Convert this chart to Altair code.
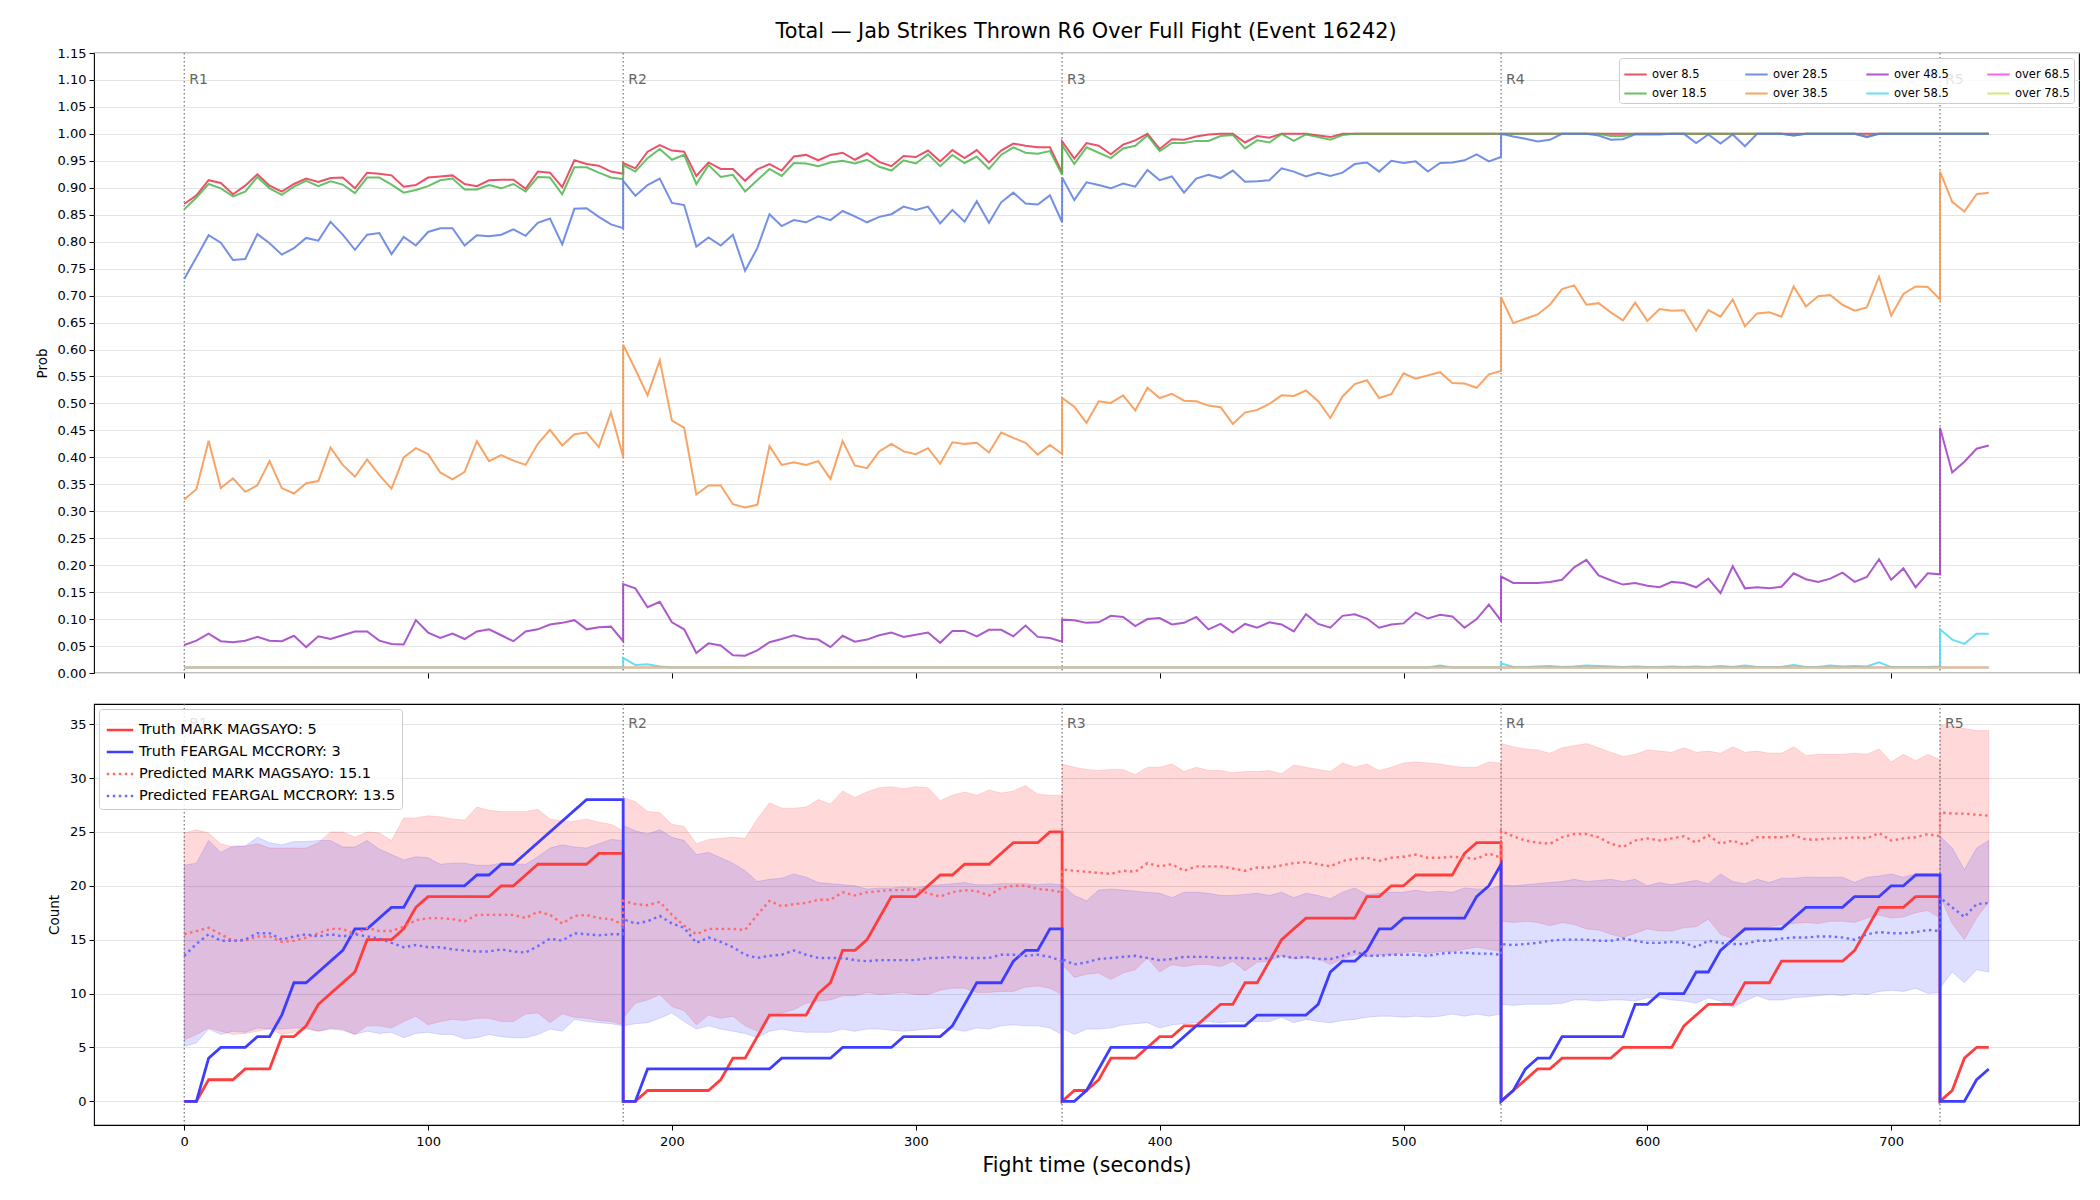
import altair as alt
import pandas as pd

ROUND_STARTS = [0, 180, 360, 540, 720]
ROUND_LABELS = ["R1", "R2", "R3", "R4", "R5"]
ROUND_POINTS = [37, 37, 37, 37, 5]
STEP = 5

# ---------------- top panel: P(over line) per round ----------------
over_8_5 = [
    [0.870,0.886,0.914,0.909,0.888,0.904,0.925,0.904,0.893,0.907,0.917,0.911,0.918,0.919,0.899,0.928,0.926,0.923,0.902,0.905,0.919,0.921,0.923,0.907,0.903,0.914,0.915,0.915,0.898,0.930,0.928,0.901,0.951,0.944,0.941,0.930,0.926],
    [0.946,0.936,0.967,0.979,0.969,0.967,0.922,0.947,0.935,0.935,0.913,0.934,0.944,0.932,0.958,0.961,0.951,0.961,0.965,0.952,0.964,0.948,0.940,0.959,0.957,0.969,0.949,0.970,0.955,0.970,0.947,0.969,0.982,0.978,0.975,0.975,0.928],
    [0.986,0.954,0.983,0.978,0.962,0.980,0.988,1.000,0.972,0.990,0.989,0.995,0.999,1.0,1.0,0.984,0.996,0.993,1.0,1.0,1.0,0.997,0.994,1.0,1.0,1.0,1.0,1.0,1.0,1.0,1.0,1.0,1.0,1.0,1.0,1.0,1.0],
    [1.0,1.0,1.0,1.0,1.0,1.0,1.0,1.0,1.0,1.0,1.0,1.0,1.0,1.0,1.0,1.0,1.0,1.0,1.0,1.0,1.0,1.0,1.0,1.0,1.0,1.0,1.0,1.0,1.0,1.0,1.0,1.0,1.0,1.0,1.0,1.0,1.0],
    [1.0,1.0,1.0,1.0,1.0],
]
over_18_5 = [
    [0.860,0.882,0.907,0.899,0.884,0.893,0.920,0.899,0.887,0.902,0.913,0.903,0.912,0.906,0.890,0.919,0.919,0.906,0.891,0.896,0.903,0.914,0.917,0.897,0.897,0.905,0.899,0.907,0.893,0.920,0.919,0.888,0.938,0.938,0.928,0.919,0.916],
    [0.942,0.930,0.955,0.972,0.952,0.961,0.907,0.942,0.920,0.924,0.893,0.914,0.935,0.922,0.946,0.945,0.940,0.947,0.950,0.945,0.952,0.939,0.932,0.951,0.945,0.962,0.940,0.961,0.946,0.958,0.935,0.961,0.975,0.965,0.963,0.968,0.924],
    [0.979,0.944,0.975,0.965,0.955,0.973,0.978,0.997,0.968,0.983,0.983,0.987,0.987,0.996,0.998,0.973,0.988,0.984,1.0,0.987,0.999,0.994,0.989,0.998,1.0,1.0,1.0,1.0,1.0,1.0,1.0,1.0,1.0,1.0,1.0,1.0,1.0],
    [1.0,1.0,1.0,1.0,1.0,1.0,1.0,1.0,1.0,0.996,0.996,1.0,1.0,1.0,1.0,1.0,1.0,1.0,1.0,1.0,1.0,1.0,1.0,1.0,0.997,1.0,1.0,1.0,1.0,1.0,0.995,1.0,1.0,1.0,1.0,1.0,1.0],
    [1.0,1.0,1.0,1.0,1.0],
]
over_28_5 = [
    [0.731,0.771,0.812,0.798,0.766,0.768,0.814,0.797,0.776,0.788,0.807,0.802,0.837,0.813,0.785,0.813,0.816,0.777,0.809,0.793,0.818,0.825,0.825,0.793,0.812,0.810,0.813,0.823,0.811,0.835,0.843,0.795,0.861,0.862,0.846,0.832,0.825],
    [0.913,0.885,0.905,0.917,0.872,0.868,0.791,0.808,0.793,0.813,0.746,0.788,0.851,0.829,0.840,0.836,0.847,0.840,0.857,0.847,0.836,0.846,0.851,0.865,0.859,0.865,0.834,0.859,0.837,0.875,0.835,0.873,0.891,0.871,0.869,0.886,0.836],
    [0.919,0.877,0.910,0.905,0.899,0.908,0.902,0.933,0.914,0.921,0.891,0.917,0.924,0.918,0.932,0.911,0.912,0.914,0.936,0.930,0.921,0.928,0.922,0.928,0.944,0.947,0.930,0.950,0.946,0.949,0.930,0.946,0.947,0.951,0.962,0.949,0.957],
    [1.0,0.995,0.991,0.986,0.989,1.0,1.0,1.0,0.997,0.989,0.990,0.999,0.999,0.999,1.0,1.0,0.983,0.999,0.982,0.999,0.977,1.0,1.0,1.0,0.997,1.0,1.0,1.0,1.0,1.0,0.994,1.0,1.0,1.0,1.0,1.0,1.0],
    [1.0,1.0,1.0,1.0,1.0],
]
over_38_5 = [
    [0.322,0.341,0.431,0.343,0.361,0.336,0.348,0.393,0.343,0.333,0.352,0.356,0.418,0.386,0.364,0.396,0.367,0.342,0.400,0.417,0.406,0.372,0.359,0.373,0.430,0.393,0.404,0.394,0.386,0.425,0.451,0.422,0.443,0.446,0.419,0.483,0.401],
    [0.609,0.563,0.515,0.580,0.468,0.455,0.331,0.348,0.348,0.313,0.307,0.312,0.421,0.386,0.391,0.386,0.393,0.360,0.430,0.385,0.380,0.411,0.425,0.411,0.406,0.417,0.388,0.428,0.425,0.427,0.409,0.446,0.436,0.427,0.405,0.423,0.406],
    [0.510,0.494,0.464,0.504,0.501,0.515,0.487,0.529,0.510,0.518,0.505,0.504,0.496,0.493,0.462,0.483,0.488,0.499,0.515,0.514,0.524,0.504,0.473,0.513,0.536,0.543,0.510,0.517,0.556,0.546,0.552,0.558,0.538,0.537,0.529,0.554,0.560],
    [0.697,0.649,0.657,0.665,0.683,0.712,0.719,0.683,0.686,0.669,0.654,0.687,0.653,0.675,0.672,0.673,0.635,0.673,0.661,0.693,0.643,0.667,0.669,0.661,0.717,0.680,0.699,0.701,0.683,0.672,0.678,0.735,0.663,0.703,0.717,0.716,0.693],
    [0.930,0.874,0.856,0.888,0.891],
]
over_48_5 = [
    [0.052,0.060,0.073,0.059,0.057,0.060,0.067,0.060,0.059,0.069,0.048,0.068,0.063,0.070,0.077,0.077,0.060,0.054,0.053,0.098,0.075,0.065,0.073,0.063,0.077,0.081,0.070,0.059,0.077,0.081,0.090,0.093,0.098,0.081,0.085,0.086,0.059],
    [0.165,0.157,0.122,0.132,0.094,0.081,0.037,0.055,0.051,0.033,0.032,0.042,0.057,0.063,0.070,0.064,0.062,0.048,0.069,0.058,0.062,0.070,0.075,0.067,0.071,0.075,0.056,0.078,0.078,0.068,0.080,0.080,0.068,0.088,0.067,0.065,0.058],
    [0.099,0.098,0.093,0.094,0.106,0.104,0.087,0.100,0.102,0.090,0.093,0.104,0.081,0.091,0.075,0.091,0.084,0.094,0.090,0.077,0.109,0.091,0.084,0.106,0.109,0.101,0.084,0.090,0.092,0.112,0.101,0.108,0.105,0.084,0.100,0.127,0.097],
    [0.179,0.167,0.167,0.167,0.169,0.173,0.196,0.210,0.181,0.172,0.164,0.167,0.162,0.159,0.169,0.167,0.159,0.175,0.148,0.198,0.157,0.159,0.157,0.160,0.185,0.174,0.169,0.175,0.186,0.169,0.178,0.211,0.173,0.194,0.159,0.185,0.183],
    [0.455,0.372,0.392,0.416,0.422],
]
over_58_5 = [
    [0.01,0.01,0.01,0.01,0.01,0.01,0.01,0.01,0.01,0.01,0.01,0.01,0.01,0.01,0.01,0.01,0.01,0.01,0.01,0.01,0.01,0.01,0.01,0.01,0.01,0.01,0.01,0.01,0.01,0.01,0.01,0.01,0.01,0.01,0.01,0.01,0.01],
    [0.028,0.015,0.016,0.012,0.01,0.01,0.01,0.01,0.01,0.01,0.01,0.01,0.01,0.01,0.01,0.01,0.01,0.01,0.01,0.01,0.01,0.01,0.01,0.01,0.01,0.01,0.01,0.01,0.01,0.01,0.01,0.01,0.01,0.01,0.01,0.01,0.01],
    [0.01,0.01,0.01,0.01,0.01,0.01,0.01,0.01,0.01,0.01,0.01,0.01,0.01,0.01,0.01,0.01,0.01,0.01,0.01,0.01,0.01,0.01,0.01,0.01,0.01,0.01,0.01,0.01,0.01,0.01,0.01,0.014,0.01,0.01,0.01,0.01,0.01],
    [0.018,0.011,0.011,0.012,0.013,0.011,0.012,0.014,0.013,0.012,0.011,0.012,0.011,0.011,0.012,0.011,0.012,0.011,0.013,0.011,0.014,0.011,0.011,0.011,0.015,0.011,0.011,0.014,0.012,0.013,0.012,0.020,0.011,0.011,0.011,0.011,0.012],
    [0.081,0.062,0.054,0.073,0.073],
]
over_68_5 = [
    [0.01,0.01,0.01,0.01,0.01,0.01,0.01,0.01,0.01,0.01,0.01,0.01,0.01,0.01,0.01,0.01,0.01,0.01,0.01,0.01,0.01,0.01,0.01,0.01,0.01,0.01,0.01,0.01,0.01,0.01,0.01,0.01,0.01,0.01,0.01,0.01,0.01],
    [0.01,0.01,0.01,0.01,0.01,0.01,0.01,0.01,0.01,0.01,0.01,0.01,0.01,0.01,0.01,0.01,0.01,0.01,0.01,0.01,0.01,0.01,0.01,0.01,0.01,0.01,0.01,0.01,0.01,0.01,0.01,0.01,0.01,0.01,0.01,0.01,0.01],
    [0.01,0.01,0.01,0.01,0.01,0.01,0.01,0.01,0.01,0.01,0.01,0.01,0.01,0.01,0.01,0.01,0.01,0.01,0.01,0.01,0.01,0.01,0.01,0.01,0.01,0.01,0.01,0.01,0.01,0.01,0.01,0.01,0.01,0.01,0.01,0.01,0.01],
    [0.01,0.01,0.01,0.01,0.01,0.01,0.01,0.01,0.01,0.01,0.01,0.01,0.01,0.01,0.01,0.01,0.01,0.01,0.01,0.01,0.01,0.01,0.01,0.01,0.01,0.01,0.01,0.01,0.01,0.01,0.01,0.01,0.01,0.01,0.01,0.01,0.01],
    [0.01,0.01,0.01,0.01,0.01],
]
over_78_5 = [
    [0.01,0.01,0.01,0.01,0.01,0.01,0.01,0.01,0.01,0.01,0.01,0.01,0.01,0.01,0.01,0.01,0.01,0.01,0.01,0.01,0.01,0.01,0.01,0.01,0.01,0.01,0.01,0.01,0.01,0.01,0.01,0.01,0.01,0.01,0.01,0.01,0.01],
    [0.01,0.01,0.01,0.01,0.01,0.01,0.01,0.01,0.01,0.01,0.01,0.01,0.01,0.01,0.01,0.01,0.01,0.01,0.01,0.01,0.01,0.01,0.01,0.01,0.01,0.01,0.01,0.01,0.01,0.01,0.01,0.01,0.01,0.01,0.01,0.01,0.01],
    [0.01,0.01,0.01,0.01,0.01,0.01,0.01,0.01,0.01,0.01,0.01,0.01,0.01,0.01,0.01,0.01,0.01,0.01,0.01,0.01,0.01,0.01,0.01,0.01,0.01,0.01,0.01,0.01,0.01,0.01,0.01,0.01,0.01,0.01,0.01,0.01,0.01],
    [0.01,0.01,0.01,0.01,0.01,0.01,0.01,0.01,0.01,0.01,0.01,0.01,0.01,0.01,0.01,0.01,0.01,0.01,0.01,0.01,0.01,0.01,0.01,0.01,0.01,0.01,0.01,0.01,0.01,0.01,0.01,0.01,0.01,0.01,0.01,0.01,0.01],
    [0.01,0.01,0.01,0.01,0.01],
]

TOP_SERIES = [
    ("over 8.5", over_8_5, "#e8334f"),
    ("over 18.5", over_18_5, "#4cb64c"),
    ("over 28.5", over_28_5, "#5a7be2"),
    ("over 38.5", over_38_5, "#f8944a"),
    ("over 48.5", over_48_5, "#9e3cc2"),
    ("over 58.5", over_58_5, "#4ed8f4"),
    ("over 68.5", over_68_5, "#f04ce6"),
    ("over 78.5", over_78_5, "#c6e85a"),
]

# ---------------- bottom panel: counts per round ----------------
truth_magsayo = [
    [0,0,2,2,2,3,3,3,6,6,7,9,10,11,12,15,15,15,16,18,19,19,19,19,19,19,20,20,21,22,22,22,22,22,23,23,23],
    [0,0,1,1,1,1,1,1,2,4,4,6,8,8,8,8,10,11,14,14,15,17,19,19,19,20,21,21,22,22,22,23,24,24,24,25,25],
    [0,1,1,2,4,4,4,5,6,6,7,7,8,9,9,11,11,13,15,16,17,17,17,17,17,19,19,20,20,21,21,21,21,23,24,24,24],
    [0,1,2,3,3,4,4,4,4,4,5,5,5,5,5,7,8,9,9,9,11,11,11,13,13,13,13,13,13,14,16,18,18,18,19,19,19],
    [0,1,4,5,5],
]
truth_mccrory = [
    [0,0,4,5,5,5,6,6,8,11,11,12,13,14,16,16,17,18,18,20,20,20,20,20,21,21,22,22,23,24,25,26,27,28,28,28,28],
    [0,0,3,3,3,3,3,3,3,3,3,3,3,4,4,4,4,4,5,5,5,5,5,6,6,6,6,7,9,11,11,11,13,14,14,16,16],
    [0,0,1,3,5,5,5,5,5,5,6,7,7,7,7,7,8,8,8,8,8,9,12,13,13,14,16,16,17,17,17,17,17,17,19,20,22],
    [0,1,3,4,4,6,6,6,6,6,6,9,9,10,10,10,12,12,14,15,16,16,16,16,17,18,18,18,18,19,19,19,20,20,21,21,21],
    [0,0,0,2,3],
]
pred_magsayo = [
    [15.5,15.8,16.1,15.5,14.9,14.9,15.3,15.3,14.8,14.9,15.2,15.6,16.0,16.0,15.5,16.1,15.8,15.8,16.2,16.8,17.0,17.0,16.9,16.7,17.3,17.3,17.3,17.3,17.0,17.6,17.3,16.5,17.2,17.3,17.0,16.9,16.4],
    [18.6,18.3,18.2,18.5,17.3,16.3,15.5,16.0,16.0,16.0,15.9,17.3,18.6,18.1,18.3,18.4,18.7,18.7,19.4,19.1,19.4,19.5,19.6,19.6,19.7,19.3,19.0,19.4,19.6,19.5,19.1,19.8,20.0,20.0,19.7,19.6,19.4],
    [21.5,21.4,21.3,21.2,21.1,21.4,21.3,22.1,21.8,22.0,21.4,21.8,21.8,21.8,21.6,21.4,21.7,21.7,21.9,22.1,22.2,22.0,21.8,22.3,22.5,22.6,22.3,22.6,22.7,22.9,22.6,22.6,22.7,22.6,22.5,23.0,22.6],
    [25.1,24.6,24.2,24.0,23.9,24.5,24.8,24.8,24.5,23.9,23.6,24.2,24.4,24.2,24.4,24.6,24.0,24.7,23.9,24.2,23.8,24.5,24.5,24.5,24.7,24.3,24.3,24.4,24.4,24.5,24.4,24.9,24.2,24.4,24.5,24.8,24.6],
    [26.8,26.7,26.7,26.6,26.5],
]
pred_mccrory = [
    [13.5,14.6,15.5,14.9,14.9,15.0,15.6,15.6,15.0,15.3,15.5,15.3,15.5,15.3,15.5,15.3,15.1,14.7,14.3,14.5,14.3,14.3,14.1,14.0,13.9,13.9,14.1,13.9,13.8,14.4,15.1,14.9,15.6,15.5,15.4,15.5,15.5],
    [16.9,16.5,16.7,17.2,16.5,16.1,14.7,15.2,14.8,14.3,13.6,13.3,13.5,13.6,14.0,13.6,13.3,13.3,13.3,13.1,13.0,13.1,13.1,13.1,13.1,13.3,13.3,13.4,13.3,13.3,13.3,13.6,13.6,13.5,13.6,13.4,13.0],
    [13.2,12.7,12.9,13.2,13.3,13.4,13.5,13.3,13.1,13.2,13.4,13.4,13.4,13.3,13.3,13.3,13.2,13.3,13.5,13.3,13.4,13.2,13.2,13.5,13.9,13.5,13.5,13.6,13.6,13.6,13.5,13.7,13.8,13.8,13.7,13.7,13.6],
    [14.6,14.5,14.6,14.7,14.9,15.0,15.0,15.0,14.9,14.9,15.1,14.9,14.7,14.7,14.8,14.7,14.3,14.9,14.7,14.6,14.6,14.9,14.9,15.1,15.2,15.2,15.3,15.3,15.2,15.0,15.5,15.7,15.6,15.6,15.7,15.9,15.8],
    [18.9,18.0,17.1,18.3,18.4],
]
band_magsayo_hi = [
    [24.9,25.2,24.9,23.9,23.6,23.7,23.9,23.5,23.5,23.5,23.5,24.0,25.0,25.0,24.5,25.0,24.9,24.2,26.3,26.3,26.5,26.4,26.2,26.1,27.3,27.0,26.9,26.9,26.9,27.1,26.2,26.0,26.0,26.2,25.9,25.7,25.1],
    [28.2,27.8,26.9,26.8,25.7,25.5,23.9,24.3,24.4,24.5,24.4,26.2,27.7,27.2,27.2,27.3,28.0,27.6,28.8,28.2,28.7,29.1,29.2,29.0,29.2,29.1,27.9,28.4,28.7,28.4,28.9,28.6,28.8,29.3,28.5,28.4,28.4],
    [31.3,31.0,30.8,30.7,30.8,30.8,30.3,31.0,31.0,31.3,30.6,31.0,30.7,30.7,30.5,30.6,30.6,30.7,30.4,31.2,31.0,30.8,30.6,31.4,31.0,31.3,30.7,31.0,31.4,31.5,31.4,31.3,31.1,31.0,31.0,31.5,31.4],
    [33.2,32.9,32.7,32.6,32.3,32.8,33.0,33.2,32.8,32.4,32.0,32.2,32.6,32.5,32.4,32.8,32.4,32.5,32.3,32.9,32.4,32.5,32.3,32.3,32.9,32.1,32.2,32.2,32.2,32.3,32.2,32.7,31.5,32.2,31.6,32.2,31.7],
    [34.9,34.8,34.6,34.4,34.4],
]
band_magsayo_lo = [
    [5.7,6.2,6.8,6.5,6.2,6.3,6.5,6.7,6.2,6.4,6.7,6.5,6.8,6.7,6.2,7.0,7.0,6.8,7.4,7.9,7.1,7.4,7.6,7.5,7.7,7.7,7.4,7.4,8.1,8.2,7.3,8.1,7.8,7.7,7.5,7.4,7.1],
    [7.7,9.1,9.4,9.9,8.8,8.4,7.1,8.0,7.7,7.9,7.0,6.5,7.9,8.2,8.5,9.1,9.3,9.4,9.8,9.8,10.1,9.9,10.0,10.1,9.9,9.9,10.3,10.5,10.5,10.1,10.1,10.2,10.2,10.6,10.7,10.5,9.9],
    [12.7,11.5,11.8,11.9,11.3,11.9,12.2,13.3,12.0,12.7,12.5,12.7,12.7,12.5,13.0,12.1,12.9,13.0,13.5,13.2,13.3,13.2,12.7,13.2,13.6,13.4,13.6,13.6,13.8,13.9,13.7,13.9,13.9,14.1,14.3,14.1,13.9],
    [16.7,16.6,16.7,16.6,16.3,16.6,16.4,16.0,15.9,15.5,15.2,15.6,16.0,15.8,15.8,16.1,16.2,16.9,15.5,15.1,15.8,15.9,16.2,16.4,16.5,16.6,16.5,16.7,16.7,16.6,17.0,17.3,17.0,17.1,17.5,17.7,17.0],
    [19.0,16.5,15.0,17.0,18.5],
]
band_mccrory_hi = [
    [21.9,22.1,24.2,23.1,23.7,23.7,24.5,24.0,23.8,24.1,24.1,24.2,24.2,23.6,23.6,24.2,23.4,22.9,22.4,22.7,22.6,22.0,22.1,22.1,21.9,21.9,22.1,22.0,22.0,22.7,23.5,23.8,23.6,23.5,23.9,24.3,24.2],
    [25.6,25.1,24.8,25.2,24.5,24.2,22.9,23.1,22.6,22.1,21.4,20.4,20.6,20.7,21.1,20.8,20.3,20.2,20.1,20.0,19.7,19.8,19.8,19.9,19.8,20.0,20.1,20.2,20.3,20.1,20.1,20.2,20.2,20.2,20.1,20.2,20.1],
    [20.1,19.1,18.6,19.6,19.7,19.6,19.5,19.4,19.3,18.9,19.4,19.4,19.3,19.1,19.1,19.2,19.3,19.1,19.4,18.9,19.3,19.1,18.8,19.4,19.8,19.2,19.3,19.4,19.4,19.6,19.4,19.5,19.4,19.8,19.7,19.7,20.0],
    [20.1,20.0,20.1,20.2,20.3,20.4,20.6,20.4,20.5,20.6,20.4,20.6,20.0,20.3,20.1,20.3,20.5,20.2,21.1,20.4,20.2,20.6,20.3,20.7,20.7,20.8,20.8,20.8,20.8,20.3,20.8,20.9,21.1,20.8,21.1,21.1,20.9],
    [24.6,23.5,21.5,23.5,24.2],
]
band_mccrory_lo = [
    [5.1,5.4,6.7,6.2,6.5,6.4,6.8,6.7,6.7,6.8,6.8,6.5,6.7,6.6,6.2,6.5,6.3,6.4,5.9,6.3,6.4,6.2,6.2,5.8,5.9,6.2,6.0,5.9,5.9,6.2,6.7,6.5,7.6,7.4,7.3,7.2,7.0],
    [7.0,7.2,7.3,7.7,8.2,7.4,6.7,7.0,6.7,6.5,6.3,5.9,6.5,6.7,6.5,6.4,6.4,6.4,6.7,6.5,6.7,6.7,6.6,6.5,6.6,6.7,6.8,6.7,6.5,6.8,6.7,7.0,7.1,7.0,7.0,6.8,6.2],
    [6.8,6.2,6.7,6.7,6.8,7.1,7.2,7.3,6.8,7.1,7.2,7.3,7.4,7.3,7.4,7.4,7.4,7.4,7.8,7.3,7.6,7.4,7.3,7.5,7.6,7.8,7.9,7.9,7.8,7.9,7.8,7.9,8.1,7.9,8.1,7.9,8.1],
    [9.0,8.9,9.0,9.0,9.0,9.1,9.4,9.4,9.3,9.4,9.4,9.3,9.6,9.6,9.4,9.3,9.1,9.6,9.3,8.7,9.3,9.8,9.4,9.4,9.6,9.7,9.8,9.9,9.8,10.0,9.9,10.2,10.3,10.2,10.5,10.0,10.1],
    [10.5,12.0,11.0,12.2,12.0],
]

LBL_T_MAG = "Truth MARK MAGSAYO: 5"
LBL_T_MCC = "Truth FEARGAL MCCRORY: 3"
LBL_P_MAG = "Predicted MARK MAGSAYO: 15.1"
LBL_P_MCC = "Predicted FEARGAL MCCRORY: 13.5"

TITLE = "Total \u2014 Jab Strikes Thrown R6 Over Full Fight (Event 16242)"
FONT = "DejaVu Sans"


def round_times(r):
    return [ROUND_STARTS[r] + STEP * k for k in range(ROUND_POINTS[r])]


# ---------- build tables ----------
rows = []
idx = 0
for name, rounds, _c in TOP_SERIES:
    for r, vals in enumerate(rounds):
        for t, v in zip(round_times(r), vals):
            rows.append({"t": t, "p": v, "series": name, "i": idx})
            idx += 1
df_top = pd.DataFrame(rows)

rows = []
idx = 0
for lbl, kind, rounds in [(LBL_T_MAG, "truth", truth_magsayo), (LBL_T_MCC, "truth", truth_mccrory),
                          (LBL_P_MAG, "pred", pred_magsayo), (LBL_P_MCC, "pred", pred_mccrory)]:
    for r, vals in enumerate(rounds):
        for t, v in zip(round_times(r), vals):
            rows.append({"t": t, "c": v, "label": lbl, "kind": kind, "i": idx})
            idx += 1
df_cnt = pd.DataFrame(rows)

rows = []
for who, his, los in [("mag", band_magsayo_hi, band_magsayo_lo), ("mcc", band_mccrory_hi, band_mccrory_lo)]:
    for r in range(len(ROUND_STARTS)):
        for t, hi, lo in zip(round_times(r), his[r], los[r]):
            rows.append({"t": t, "hi": hi, "lo": lo, "who": who, "round": ROUND_LABELS[r]})
df_band = pd.DataFrame(rows)

df_rounds = pd.DataFrame({"t": ROUND_STARTS, "label": ROUND_LABELS})

# ---------- shared encodings ----------
x_dom = [-37, 777]
x_ticks = [0, 100, 200, 300, 400, 500, 600, 700]
top_y_ticks = [round(0.05 * k, 2) for k in range(24)]
bot_y_ticks = [0, 5, 10, 15, 20, 25, 30, 35]

x_top = alt.X("t:Q", scale=alt.Scale(domain=x_dom, nice=False, zero=False),
              axis=alt.Axis(values=x_ticks, labels=False, title=None, grid=False,
                            ticks=True, tickSize=5, domain=False))
x_bot = alt.X("t:Q", scale=alt.Scale(domain=x_dom, nice=False, zero=False),
              axis=alt.Axis(values=x_ticks, title="Fight time (seconds)", grid=False,
                            ticks=True, tickSize=5, domain=False, labelPadding=5,
                            titleFontSize=20.5, titlePadding=7, labelOverlap=False))

y_top_scale = alt.Scale(domain=[0, 1.15], nice=False, zero=False)
y_top_axis = alt.Axis(values=top_y_ticks, format=".2f", title="Prob", grid=True, tickSize=5,
                      domain=False, labelPadding=3, titlePadding=8, labelOverlap=False,
                      labelBound=False, labelFlush=False)
y_bot_scale = alt.Scale(domain=[-2.2, 36.87], nice=False, zero=False)
y_bot_axis = alt.Axis(values=bot_y_ticks, title="Count", grid=True, tickSize=5, domain=False,
                      labelPadding=3, titlePadding=8, labelOverlap=False)

rule_top = alt.Chart(df_rounds).mark_rule(color="#666666", strokeDash=[1.5, 2.5], strokeWidth=1.1).encode(x=x_top)
text_top = alt.Chart(df_rounds).mark_text(align="left", baseline="middle", dx=5, fontSize=14,
                                          font=FONT, color="#666666").encode(
    x=x_top, y=alt.YDatum(1.10, scale=y_top_scale, axis=y_top_axis), text="label:N")

color_top = alt.Color(
    "series:N",
    scale=alt.Scale(domain=[n for n, _r, _c in TOP_SERIES], range=[c for _n, _r, c in TOP_SERIES]),
    legend=alt.Legend(title=None, orient="top-right", columns=4, symbolType="stroke",
                      symbolStrokeWidth=2, symbolSize=500, labelFontSize=11.5, labelFont=FONT,
                      fillColor="rgba(255,255,255,0.82)", strokeColor="#cccccc", padding=4,
                      cornerRadius=3, columnPadding=34, rowPadding=1, offset=5, labelLimit=200),
)
lines_top = alt.Chart(df_top).mark_line(strokeWidth=2, opacity=0.85).encode(
    x=x_top,
    y=alt.Y("p:Q", scale=y_top_scale, axis=y_top_axis),
    color=color_top,
    order="i:Q",
)

top = alt.layer(rule_top, lines_top, text_top).properties(width=1985, height=620)

# ---------- bottom ----------
band_mag = alt.Chart(df_band).transform_filter(alt.datum.who == "mag").mark_area(
    fill="#ff0000", fillOpacity=0.15, stroke="#ff0000", strokeOpacity=0.12, strokeWidth=1).encode(
    x=x_bot, y=alt.Y("lo:Q", scale=y_bot_scale, axis=y_bot_axis), y2="hi:Q", detail="round:N")
band_mcc = alt.Chart(df_band).transform_filter(alt.datum.who == "mcc").mark_area(
    fill="#0000ff", fillOpacity=0.13, stroke="#0000ff", strokeOpacity=0.12, strokeWidth=1).encode(
    x=x_bot, y=alt.Y("lo:Q", scale=y_bot_scale, axis=y_bot_axis), y2="hi:Q", detail="round:N")

cnt_labels = [LBL_T_MAG, LBL_T_MCC, LBL_P_MAG, LBL_P_MCC]
leg_bot = alt.Legend(title=None, orient="top-left", symbolType="stroke", symbolSize=700,
                     symbolStrokeWidth=2.6, labelFontSize=14.5, labelFont=FONT,
                     fillColor="rgba(255,255,255,0.82)", strokeColor="#cccccc", padding=6,
                     cornerRadius=3, offset=5, rowPadding=0, labelLimit=400)
color_bot = alt.Color("label:N", scale=alt.Scale(domain=cnt_labels,
                                                 range=["#ff3d3d", "#3d3dff", "#ff6b6b", "#6b6bff"]),
                      legend=leg_bot)
dash_bot = alt.StrokeDash("label:N", scale=alt.Scale(domain=cnt_labels,
                                                     range=[[1, 0], [1, 0], [2.5, 3.5], [2.5, 3.5]]),
                          legend=leg_bot)

truth_lines = alt.Chart(df_cnt).transform_filter(alt.datum.kind == "truth").mark_line(strokeWidth=2.8).encode(
    x=x_bot, y=alt.Y("c:Q", scale=y_bot_scale, axis=y_bot_axis), color=color_bot, strokeDash=dash_bot,
    order="i:Q")
pred_lines = alt.Chart(df_cnt).transform_filter(alt.datum.kind == "pred").mark_line(strokeWidth=2.4).encode(
    x=x_bot, y=alt.Y("c:Q", scale=y_bot_scale, axis=y_bot_axis), color=color_bot, strokeDash=dash_bot,
    order="i:Q")

rule_bot = alt.Chart(df_rounds).mark_rule(color="#666666", strokeDash=[1.5, 2.5], strokeWidth=1.1).encode(x=x_bot)
text_bot = alt.Chart(df_rounds).mark_text(align="left", baseline="middle", dx=5, fontSize=14,
                                          font=FONT, color="#666666").encode(
    x=x_bot, y=alt.YDatum(35, scale=y_bot_scale, axis=y_bot_axis), text="label:N")

bottom = alt.layer(band_mag, band_mcc, rule_bot, text_bot, truth_lines, pred_lines).properties(
    width=1985, height=421)

chart = alt.vconcat(top, bottom, spacing=21).resolve_scale(
    y="independent", color="independent", strokeDash="independent"
).resolve_legend(color="independent", strokeDash="independent").properties(
    title=alt.TitleParams(TITLE, fontSize=20.8, font=FONT, fontWeight="normal", anchor="middle",
                          offset=4, dx=29, color="black"),
    padding={"left": 34, "top": 20, "right": 15, "bottom": 5},
    background="white",
).configure_view(stroke="black", strokeWidth=1.1).configure_axis(
    labelFont=FONT, labelFontSize=13, titleFont=FONT, titleFontSize=13.5, titleFontWeight="normal",
    labelColor="black", titleColor="black", tickColor="black", gridColor="#e4e4e4", gridWidth=1,
)

chart.save("out.html", embed_options={"renderer": "svg", "actions": False})
